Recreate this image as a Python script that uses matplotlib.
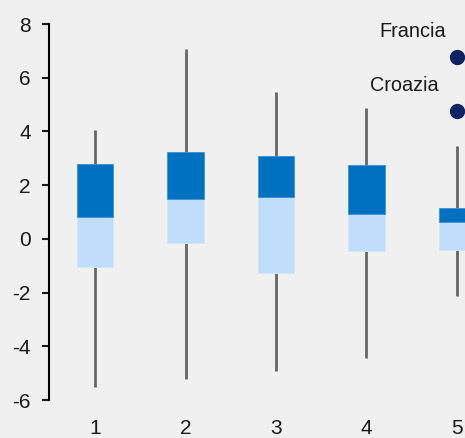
import matplotlib
matplotlib.use("Agg")
import matplotlib.pyplot as plt

categories = [1, 2, 3, 4, 5]
whisker_low = [-5.5, -5.22, -4.92, -4.42, -2.13]
q1 = [-1.03, -0.14, -1.26, -0.44, -0.40]
median = [0.83, 1.47, 1.57, 0.92, 0.62]
q3 = [2.78, 3.25, 3.07, 2.74, 1.14]
whisker_high = [4.05, 7.06, 5.46, 4.86, 3.47]

outlier_names = ["Francia", "Croazia"]
outlier_x = [5, 5]
outlier_y = [6.76, 4.76]
yticks = [-6, -4, -2, 0, 2, 4, 6, 8]

plt.rcParams['font.family'] = ['Liberation Sans', 'DejaVu Sans']
bg = '#F0F0F0'
fig = plt.figure(figsize=(4.65, 4.38), dpi=100, facecolor=bg)
ax = fig.add_axes([49/465, 38/438, (465-49)/465, (400-24)/438])
ax.set_facecolor(bg)

w = 0.4
for i, x in enumerate(categories):
    ax.plot([x, x], [whisker_low[i], q1[i]], color='#666666', lw=2, zorder=1, solid_capstyle='butt')
    ax.plot([x, x], [q3[i], whisker_high[i]], color='#666666', lw=2, zorder=1, solid_capstyle='butt')
    ax.bar(x, median[i] - q1[i], bottom=q1[i], width=w, color='#C0DEFC',
           edgecolor='#D2E7FC', linewidth=0.6, zorder=2)
    ax.bar(x, q3[i] - median[i], bottom=median[i], width=w, color='#0070C0',
           edgecolor='#3D8FD6', linewidth=0.6, zorder=2)

ax.scatter(outlier_x, outlier_y, s=100, color='#0E2463', zorder=3, clip_on=False)
offsets = [(-44.5, 20), (-53, 20)]
for name, x, y, off in zip(outlier_names, outlier_x, outlier_y, offsets):
    ax.annotate(name, (x, y), xytext=off, textcoords='offset pixels',
                ha='center', va='baseline', fontsize=14.3, color='#1a1a1a')

ax.set_xlim(0.49, 5.09)
ax.set_ylim(-6, 8)
ax.set_yticks(yticks)
ax.set_yticklabels([str(t) for t in yticks], fontsize=15)
ax.set_xticks(categories)
ax.set_xticklabels([str(c) for c in categories], fontsize=15)
for s in ['top', 'right', 'bottom']:
    ax.spines[s].set_visible(False)
ax.spines['left'].set_linewidth(1.5)
ax.tick_params(axis='y', length=5, width=1.5, pad=8, colors='#1a1a1a')
ax.tick_params(axis='x', length=0, pad=14, colors='#1a1a1a')

fig.savefig('out.png', dpi=100, facecolor=bg)
